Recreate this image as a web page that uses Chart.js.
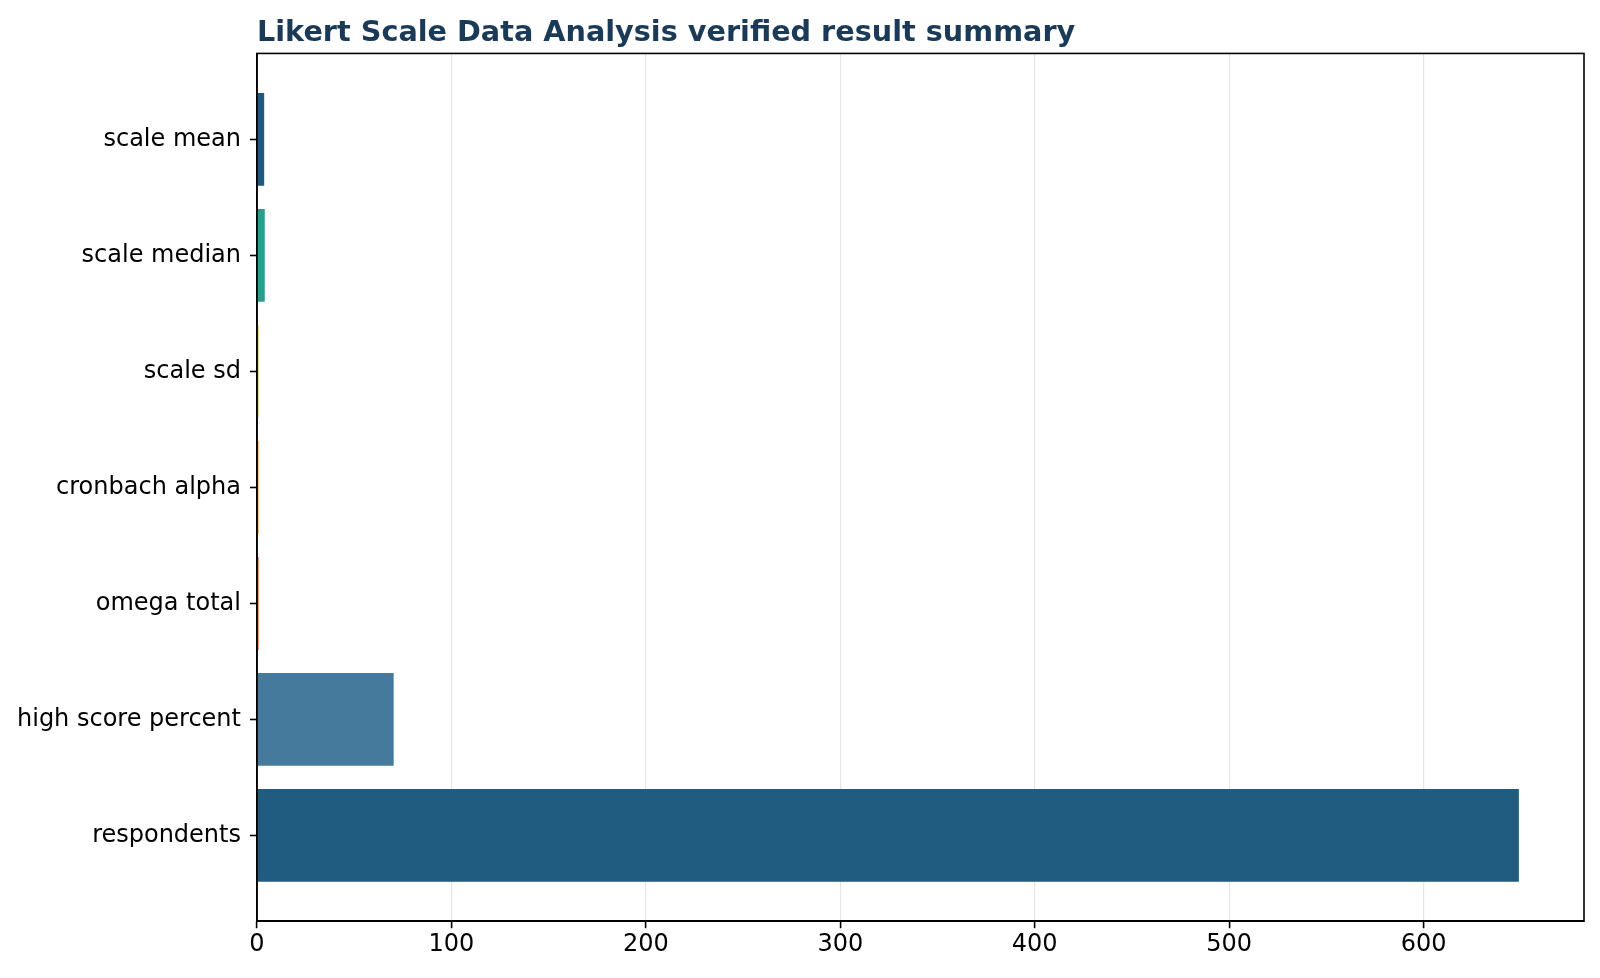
<!DOCTYPE html>
<html>
<head>
<meta charset="utf-8">
<script src="https://cdn.jsdelivr.net/npm/chart.js@4"></script>
<style>
  html, body { margin: 0; padding: 0; background: #fff; }
  #wrap { width: 1600px; height: 978px; }
</style>
</head>
<body>
<div id="wrap"><canvas id="grafica"></canvas></div>
<script>
// categories, top to bottom
const categorias = ["scale mean", "scale median", "scale sd", "cronbach alpha", "omega total", "high score percent", "respondents"];
const valores = [3.7, 4.0, 0.85, 0.86, 0.88, 70.3, 649];
const colores = ["#1f5a82", "#2a9d8f", "#e9c46a", "#f4a261", "#e76f51", "#467a9c", "#205b80"];
const ticksX = [0, 100, 200, 300, 400, 500, 600];

const TITULO = "Likert Scale Data Analysis verified result summary";

// frame around the plot area (matplotlib spines on all four sides)
const marco = {
    id: "marco",
    afterDraw(chart) {
        const { ctx, chartArea } = chart;
        ctx.save();
        ctx.strokeStyle = "#000";
        ctx.lineWidth = 1.6;
        ctx.strokeRect(chartArea.left, chartArea.top, chartArea.right - chartArea.left, chartArea.bottom - chartArea.top);
        ctx.restore();
    }
};

function iniciarGrafica() {
    const ctx = document.getElementById("grafica").getContext("2d");

    const puntos = valores.map((v, i) => ({ x: v, y: i }));

    new Chart(ctx, {
        type: "bar",
        data: {
            datasets: [{
                data: puntos,
                backgroundColor: colores,
                borderWidth: 0,
                barPercentage: 0.8,
                categoryPercentage: 1.0
            }]
        },
        plugins: [marco],
        options: {
            indexAxis: "y",
            responsive: true,
            maintainAspectRatio: false,
            devicePixelRatio: 1,
            animation: false,
            layout: { padding: { left: 8, right: 16, top: 0, bottom: 17 } },
            plugins: {
                legend: { display: false },
                tooltip: { enabled: false },
                title: {
                    display: true,
                    text: TITULO,
                    align: "start",
                    fullSize: false,
                    color: "#1b3a57",
                    font: { family: "DejaVu Sans", size: 28.7, weight: "bold" },
                    padding: { top: 16, bottom: 3 }
                }
            },
            scales: {
                x: {
                    type: "linear",
                    min: 0,
                    max: 682.5,
                    z: 1,
                    afterBuildTicks(axis) {
                        axis.ticks = ticksX.map(v => ({ value: v }));
                    },
                    ticks: {
                        color: "#000",
                        font: { family: "DejaVu Sans", size: 24 },
                        padding: 2,
                        maxRotation: 0
                    },
                    grid: {
                        color: "rgba(170,170,170,0.3)",
                        lineWidth: 1.2,
                        tickColor: "#000",
                        tickLength: 7,
                        tickWidth: 1.6
                    },
                    border: { display: true, color: "#000", width: 1.6 }
                },
                y: {
                    type: "linear",
                    reverse: true,
                    offset: false,
                    min: -0.74,
                    max: 6.74,
                    z: 1,
                    afterBuildTicks(axis) {
                        axis.ticks = categorias.map((c, i) => ({ value: i }));
                    },
                    ticks: {
                        color: "#000",
                        font: { family: "DejaVu Sans", size: 24 },
                        padding: 9,
                        callback: (v) => categorias[v]
                    },
                    grid: {
                        offset: false,
                        drawOnChartArea: false,
                        drawTicks: true,
                        tickColor: "#000",
                        tickLength: 7,
                        tickWidth: 1.6
                    },
                    border: { display: true, color: "#000", width: 1.6 }
                }
            }
        }
    });
}

document.addEventListener("DOMContentLoaded", iniciarGrafica);
</script>
</body>
</html>
